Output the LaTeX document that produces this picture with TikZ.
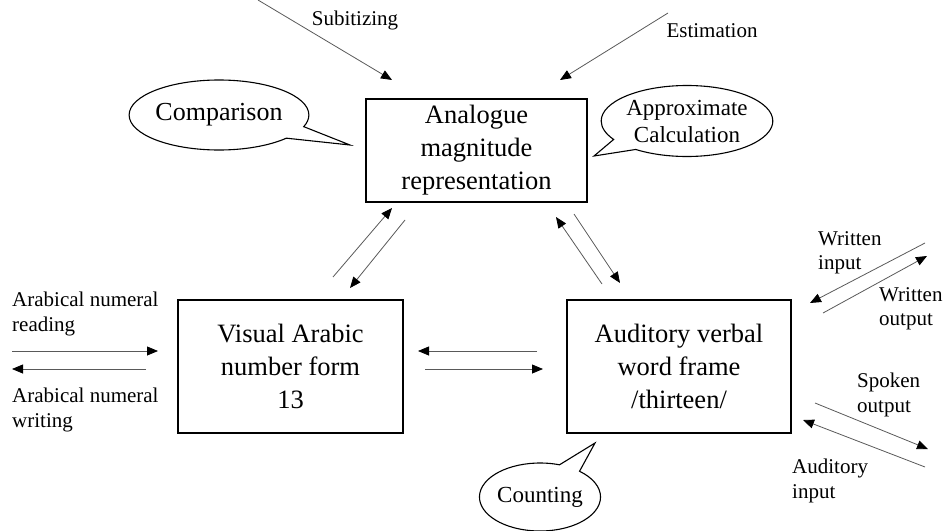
\documentclass[tikz,border=0pt]{standalone}
\usepackage{fontspec}
\setmainfont{Liberation Serif}
\usetikzlibrary{arrows.meta,shapes.callouts}

\begin{document}
\begin{tikzpicture}[x=1pt,y=-1pt,
  box/.style={draw,line width=2.6pt,inner sep=0pt,align=center,
    font=\fontsize{26.5}{33}\selectfont},
  lbl/.style={inner sep=0pt,align=left,font=\fontsize{21}{24.5}\selectfont},
  bubble/.style={ellipse callout,draw,line width=1.1pt,inner sep=0pt,
    callout pointer arc=22,align=center},
  arr/.style={draw=black!65,line width=0.8pt,
    -{Triangle[length=11pt,width=9pt,color=black]}}]
\useasboundingbox (0,0) rectangle (947,530);
% Drawing boxes
\node[box,minimum width=221,minimum height=103] (amr) at (476.5,150.5)
  {Analogue\\magnitude\\representation};
\node[box,minimum width=225,minimum height=133] (vis) at (290.5,366.5)
  {Visual Arabic\\number form\\13};
\node[box,minimum width=224,minimum height=133] (aud) at (679.0,366.5)
  {Auditory verbal\\word frame\\/thirteen/};
% Drawing callouts
\node[bubble,minimum width=148,minimum height=70,
  font=\fontsize{26}{30}\selectfont,
  callout absolute pointer={(350,145)}] (cmp) at (219,115) {Comparison};
\node[bubble,minimum width=150,minimum height=71,
  font=\fontsize{23}{27}\selectfont,
  callout absolute pointer={(594,156)}] (apx) at (687,121)
  {Approximate\\Calculation};
\node[bubble,minimum width=120,minimum height=68,
  font=\fontsize{23}{27}\selectfont,
  callout absolute pointer={(595,443)}] (cnt) at (540,497) {Counting};
% Drawing labels
\node[lbl] (sub) at (355,20) {Subitizing};
\node[lbl] (est) at (712,31) {Estimation};
\node[lbl,anchor=west] (rd) at (12,314) {Arabical numeral\\reading};
\node[lbl,anchor=west] (wr) at (12,410) {Arabical numeral\\writing};
\node[lbl,anchor=west] (wi) at (818,253) {Written\\input};
\node[lbl,anchor=west] (wo) at (879,309) {Written\\output};
\node[lbl,anchor=west] (so) at (857,395) {Spoken\\output};
\node[lbl,anchor=west] (ai) at (792,481) {Auditory\\input};
% Arrow ends
\coordinate (sub0) at (258,0);   \coordinate (sub1) at (392,80);
\coordinate (est0) at (668,13);  \coordinate (est1) at (560,80);
\coordinate (va0) at (333,277);  \coordinate (va1) at (392,208);
\coordinate (av0) at (405,220);  \coordinate (av1) at (350,288);
\coordinate (ua0) at (602,284);  \coordinate (ua1) at (556,217);
\coordinate (au0) at (574,214);  \coordinate (au1) at (620,283);
\coordinate (uv0) at (537,351);  \coordinate (uv1) at (418,351);
\coordinate (vu0) at (425,369);  \coordinate (vu1) at (543,369);
\coordinate (rd0) at (12,351);   \coordinate (rd1) at (158,351);
\coordinate (wr0) at (146,369);  \coordinate (wr1) at (12,369);
\coordinate (wi0) at (925,243);  \coordinate (wi1) at (810,303);
\coordinate (wo0) at (823,313);  \coordinate (wo1) at (927,256);
\coordinate (so0) at (815,403);  \coordinate (so1) at (928,449);
\coordinate (ai0) at (925,467);  \coordinate (ai1) at (803,420);
% Drawing arrows
\draw[arr] (sub0) -- (sub1);
\draw[arr] (est0) -- (est1);
\draw[arr] (va0) -- (va1);
\draw[arr] (av0) -- (av1);
\draw[arr] (ua0) -- (ua1);
\draw[arr] (au0) -- (au1);
\draw[arr] (uv0) -- (uv1);
\draw[arr] (vu0) -- (vu1);
\draw[arr] (rd0) -- (rd1);
\draw[arr] (wr0) -- (wr1);
\draw[arr] (wi0) -- (wi1);
\draw[arr] (wo0) -- (wo1);
\draw[arr] (so0) -- (so1);
\draw[arr] (ai0) -- (ai1);
\end{tikzpicture}
\end{document}
